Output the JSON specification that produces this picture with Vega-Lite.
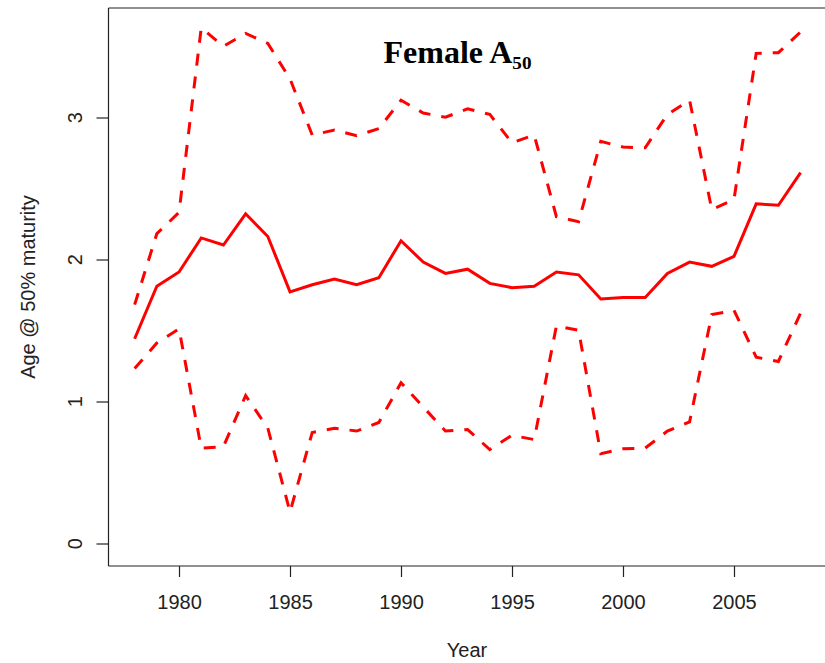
{
  "$schema": "https://vega.github.io/schema/vega-lite/v6.json",
  "width": 717,
  "height": 558,
  "autosize": {"type": "none"},
  "padding": {"left": 108, "top": 7.5, "right": 0, "bottom": 97},
  "background": "white",
  "title": {"text": "Female A₅₀", "offset": -62, "dx": -9, "font": "Liberation Serif", "fontSize": 32, "fontWeight": "bold", "color": "black", "anchor": "middle"},
  "config": {
    "view": {"stroke": null},
    "axis": {"labelFont": "Liberation Sans", "titleFont": "Liberation Sans", "labelColor": "#222", "titleColor": "#222", "labelFontSize": 20, "titleFontSize": 20, "titleFontWeight": "normal", "domainColor": "#222", "tickColor": "#222", "domainWidth": 1.2, "tickWidth": 1.2, "grid": false}
  },
  "data": {"values": [
    {"year": 1978, "A50": 1.44, "lower": 1.23, "upper": 1.68},
    {"year": 1979, "A50": 1.81, "lower": 1.41, "upper": 2.18},
    {"year": 1980, "A50": 1.91, "lower": 1.51, "upper": 2.33},
    {"year": 1981, "A50": 2.15, "lower": 0.67, "upper": 3.63},
    {"year": 1982, "A50": 2.10, "lower": 0.68, "upper": 3.50},
    {"year": 1983, "A50": 2.32, "lower": 1.04, "upper": 3.59},
    {"year": 1984, "A50": 2.16, "lower": 0.81, "upper": 3.52},
    {"year": 1985, "A50": 1.77, "lower": 0.22, "upper": 3.27},
    {"year": 1986, "A50": 1.82, "lower": 0.78, "upper": 2.875},
    {"year": 1987, "A50": 1.86, "lower": 0.81, "upper": 2.91},
    {"year": 1988, "A50": 1.82, "lower": 0.79, "upper": 2.87},
    {"year": 1989, "A50": 1.87, "lower": 0.85, "upper": 2.92},
    {"year": 1990, "A50": 2.13, "lower": 1.13, "upper": 3.12},
    {"year": 1991, "A50": 1.98, "lower": 0.96, "upper": 3.03},
    {"year": 1992, "A50": 1.90, "lower": 0.79, "upper": 3.00},
    {"year": 1993, "A50": 1.93, "lower": 0.80, "upper": 3.06},
    {"year": 1994, "A50": 1.83, "lower": 0.66, "upper": 3.02},
    {"year": 1995, "A50": 1.80, "lower": 0.76, "upper": 2.82},
    {"year": 1996, "A50": 1.81, "lower": 0.73, "upper": 2.875},
    {"year": 1997, "A50": 1.91, "lower": 1.53, "upper": 2.30},
    {"year": 1998, "A50": 1.89, "lower": 1.50, "upper": 2.265},
    {"year": 1999, "A50": 1.72, "lower": 0.63, "upper": 2.83},
    {"year": 2000, "A50": 1.73, "lower": 0.665, "upper": 2.79},
    {"year": 2001, "A50": 1.73, "lower": 0.67, "upper": 2.785},
    {"year": 2002, "A50": 1.90, "lower": 0.79, "upper": 3.02},
    {"year": 2003, "A50": 1.98, "lower": 0.855, "upper": 3.12},
    {"year": 2004, "A50": 1.95, "lower": 1.61, "upper": 2.35},
    {"year": 2005, "A50": 2.02, "lower": 1.64, "upper": 2.42},
    {"year": 2006, "A50": 2.39, "lower": 1.31, "upper": 3.45},
    {"year": 2007, "A50": 2.38, "lower": 1.28, "upper": 3.455},
    {"year": 2008, "A50": 2.61, "lower": 1.62, "upper": 3.60}
  ]},
  "resolve": {"axis": {"x": "independent"}},
  "layer": [
    {
      "mark": {"type": "line", "color": "#ff0000", "strokeWidth": 3},
      "encoding": {
        "x": {"field": "year", "type": "quantitative", "scale": {"domain": [1976.8, 2009.1], "nice": false, "zero": false},
              "axis": {"orient": "bottom", "values": [1980, 1985, 1990, 1995, 2000, 2005], "format": "d", "tickSize": 11, "labelPadding": 16, "title": "Year", "titlePadding": 28}},
        "y": {"field": "A50", "type": "quantitative", "scale": {"domain": [-0.157, 3.773], "nice": false, "zero": false},
              "axis": {"values": [0, 1, 2, 3], "format": "d", "tickSize": 12, "labelAngle": -90, "labelAlign": "center", "labelBaseline": "bottom", "labelPadding": 11, "title": "Age @ 50% maturity", "titlePadding": 27}}
      }
    },
    {
      "mark": {"type": "line", "color": "#ff0000", "strokeWidth": 3, "strokeDash": [12, 11]},
      "encoding": {
        "x": {"field": "year", "type": "quantitative", "axis": {"orient": "top", "labels": false, "ticks": false, "title": null}},
        "y": {"field": "upper", "type": "quantitative"}
      }
    },
    {
      "mark": {"type": "line", "color": "#ff0000", "strokeWidth": 3, "strokeDash": [12, 11]},
      "encoding": {
        "x": {"field": "year", "type": "quantitative", "axis": null},
        "y": {"field": "lower", "type": "quantitative"}
      }
    }
  ]
}
